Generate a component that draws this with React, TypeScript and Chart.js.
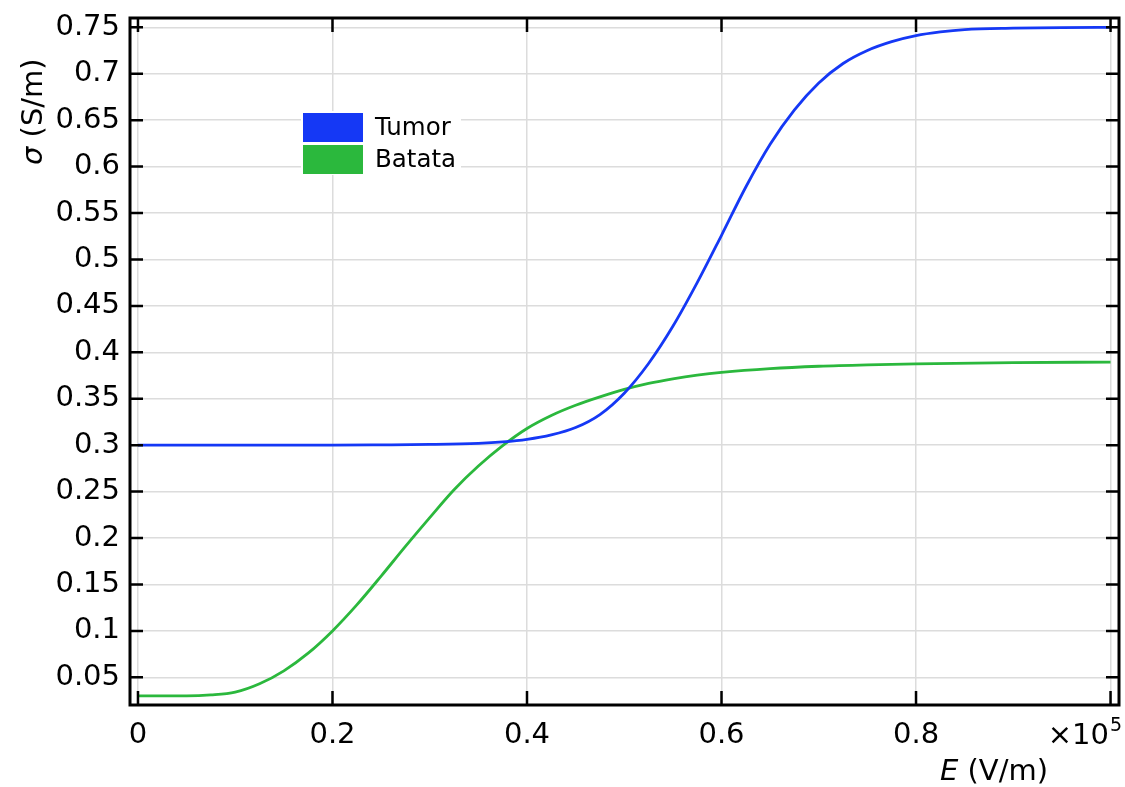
import { useEffect, useRef } from 'react';
import { Chart, registerables } from 'chart.js';

Chart.register(...registerables);

// Data (E in units of 1e5 V/m, sigma in S/m)
const tumorE = [0, 0.1, 0.2, 0.25, 0.3, 0.35, 0.375, 0.4, 0.425, 0.45, 0.475, 0.5, 0.525, 0.55, 0.575, 0.6, 0.625, 0.65, 0.675, 0.7, 0.725, 0.75, 0.775, 0.8, 0.825, 0.85, 0.9, 0.95, 1.0];
const tumorSigma = [0.3, 0.3, 0.3, 0.3003, 0.3008, 0.302, 0.3035, 0.3062, 0.311, 0.319, 0.333, 0.356, 0.388, 0.428, 0.475, 0.526, 0.578, 0.624, 0.661, 0.69, 0.711, 0.725, 0.7345, 0.741, 0.745, 0.7475, 0.749, 0.7497, 0.75];

const batataE = [0, 0.05, 0.075, 0.1, 0.125, 0.15, 0.175, 0.2, 0.225, 0.25, 0.275, 0.3, 0.325, 0.35, 0.375, 0.4, 0.425, 0.45, 0.475, 0.5, 0.525, 0.55, 0.575, 0.6, 0.65, 0.7, 0.75, 0.8, 0.9, 1.0];
const batataSigma = [0.03, 0.03, 0.031, 0.034, 0.043, 0.057, 0.076, 0.1, 0.128, 0.159, 0.191, 0.222, 0.252, 0.2775, 0.2995, 0.318, 0.332, 0.343, 0.352, 0.36, 0.3665, 0.3715, 0.3755, 0.3785, 0.3825, 0.385, 0.3865, 0.3875, 0.3888, 0.3895];

const seriesLabels = ['Tumor', 'Batata'];
const seriesColors = ['#1538f5', '#2bb83d'];

const xTicks = [0, 0.2, 0.4, 0.6, 0.8, 1.0];
const xTickLabels = ['0', '0.2', '0.4', '0.6', '0.8', ''];
const yTicks = [0.05, 0.1, 0.15, 0.2, 0.25, 0.3, 0.35, 0.4, 0.45, 0.5, 0.55, 0.6, 0.65, 0.7, 0.75];
const yTickLabels = ['0.05', '0.1', '0.15', '0.2', '0.25', '0.3', '0.35', '0.4', '0.45', '0.5', '0.55', '0.6', '0.65', '0.7', '0.75'];

const xMin = -0.0082;
const xMax = 1.0087;
const yMin = 0.0202;
const yMax = 0.76;

const FONT = '"DejaVu Sans", Verdana, sans-serif';

const decorPlugin = {
  id: 'decor',
  afterDatasetsDraw(chart: any) {
    const { ctx, chartArea: a, scales } = chart;
    const xs = scales.x;
    const ys = scales.y;
    ctx.save();

    // Legend (inside plot)
    const lx = 303;
    const ly = 113;
    ctx.fillStyle = '#ffffff';
    ctx.fillRect(lx - 2, ly - 2, 160, 64);
    ctx.font = `24.5px ${FONT}`;
    ctx.textBaseline = 'alphabetic';
    ctx.textAlign = 'left';
    chart.data.datasets.forEach((ds: any, i: number) => {
      const top = ly + i * 32;
      ctx.fillStyle = ds.borderColor;
      ctx.fillRect(lx, top, 60, 29);
      ctx.fillStyle = '#000';
      ctx.fillText(ds.label, lx + 72, top + 22);
    });

    // Inner ticks on all four sides
    ctx.strokeStyle = '#000';
    ctx.lineWidth = 2.5;
    ctx.beginPath();
    xTicks.forEach((v) => {
      const p = xs.getPixelForValue(v);
      ctx.moveTo(p, a.bottom);
      ctx.lineTo(p, a.bottom - 14);
      ctx.moveTo(p, a.top);
      ctx.lineTo(p, a.top + 14);
    });
    yTicks.forEach((v) => {
      const p = ys.getPixelForValue(v);
      ctx.moveTo(a.left, p);
      ctx.lineTo(a.left + 13, p);
      ctx.moveTo(a.right, p);
      ctx.lineTo(a.right - 13, p);
    });
    ctx.stroke();

    // Frame
    ctx.lineWidth = 3;
    ctx.strokeRect(a.left, a.top, a.right - a.left, a.bottom - a.top);

    ctx.fillStyle = '#000';
    // Y axis title: σ (S/m), rotated
    ctx.save();
    ctx.translate(41.5, 165);
    ctx.rotate(-Math.PI / 2);
    ctx.textAlign = 'left';
    ctx.textBaseline = 'alphabetic';
    ctx.font = `italic 29px ${FONT}`;
    ctx.fillText('σ', 0, 0);
    const sw = ctx.measureText('σ').width;
    ctx.font = `29px ${FONT}`;
    ctx.fillText(' (S/m)', sw, 0);
    ctx.restore();

    // X axis title: E (V/m)
    ctx.textAlign = 'left';
    ctx.textBaseline = 'alphabetic';
    ctx.font = `italic 29px ${FONT}`;
    ctx.fillText('E', 940, 780);
    const ew = ctx.measureText('E').width;
    ctx.font = `29px ${FONT}`;
    ctx.fillText(' (V/m)', 940 + ew, 780);

    // Multiplier ×10^5
    ctx.textAlign = 'right';
    ctx.font = `29px ${FONT}`;
    ctx.fillText('×10', 1109, 744);
    ctx.textAlign = 'left';
    ctx.font = `19px ${FONT}`;
    ctx.fillText('5', 1110, 731);

    ctx.restore();
  },
};

export default function App() {
  const canvasRef = useRef<HTMLCanvasElement | null>(null);

  useEffect(() => {
    if (!canvasRef.current) return;
    Chart.defaults.font.family = FONT;
    const chart = new Chart(canvasRef.current, {
      type: 'line',
      data: {
        datasets: [
          {
            label: seriesLabels[0],
            data: tumorE.map((x, i) => ({ x, y: tumorSigma[i] })),
            borderColor: seriesColors[0],
            backgroundColor: seriesColors[0],
            borderWidth: 2.8,
            pointRadius: 0,
            cubicInterpolationMode: 'monotone',
            fill: false,
          },
          {
            label: seriesLabels[1],
            data: batataE.map((x, i) => ({ x, y: batataSigma[i] })),
            borderColor: seriesColors[1],
            backgroundColor: seriesColors[1],
            borderWidth: 2.8,
            pointRadius: 0,
            cubicInterpolationMode: 'monotone',
            fill: false,
          },
        ],
      },
      options: {
        animation: false,
        responsive: false,
        devicePixelRatio: 1,
        layout: { padding: { top: 18, right: 6, left: 0, bottom: 0 } },
        plugins: {
          legend: { display: false },
          tooltip: { enabled: false },
        },
        scales: {
          x: {
            type: 'linear',
            min: xMin,
            max: xMax,
            afterBuildTicks: (scale: any) => {
              scale.ticks = xTicks.map((v) => ({ value: v }));
            },
            afterFit: (scale: any) => {
              scale.height = 82;
              scale.paddingLeft = 0;
              scale.paddingRight = 0;
            },
            ticks: {
              autoSkip: false,
              maxRotation: 0,
              padding: 13,
              color: '#000',
              font: { size: 29, family: FONT },
              callback: (_v: any, i: number) => xTickLabels[i],
            },
            grid: { color: '#dcdcdc', lineWidth: 1.5, drawTicks: false },
            border: { display: false },
          },
          y: {
            type: 'linear',
            min: yMin,
            max: yMax,
            afterBuildTicks: (scale: any) => {
              scale.ticks = yTicks.map((v) => ({ value: v }));
            },
            afterFit: (scale: any) => {
              scale.width = 130;
              scale.paddingTop = 0;
              scale.paddingBottom = 0;
            },
            ticks: {
              autoSkip: false,
              padding: 10,
              color: '#000',
              font: { size: 29, family: FONT },
              callback: (_v: any, i: number) => yTickLabels[i],
            },
            grid: { color: '#dcdcdc', lineWidth: 1.5, drawTicks: false },
            border: { display: false },
          },
        },
      } as any,
      plugins: [decorPlugin],
    });
    return () => chart.destroy();
  }, []);

  return (
    <div style={{ position: 'absolute', left: 0, top: 0, width: 1125, height: 787, background: '#fff' }}>
      <canvas ref={canvasRef} width={1125} height={787} style={{ display: 'block' }} />
    </div>
  );
}
